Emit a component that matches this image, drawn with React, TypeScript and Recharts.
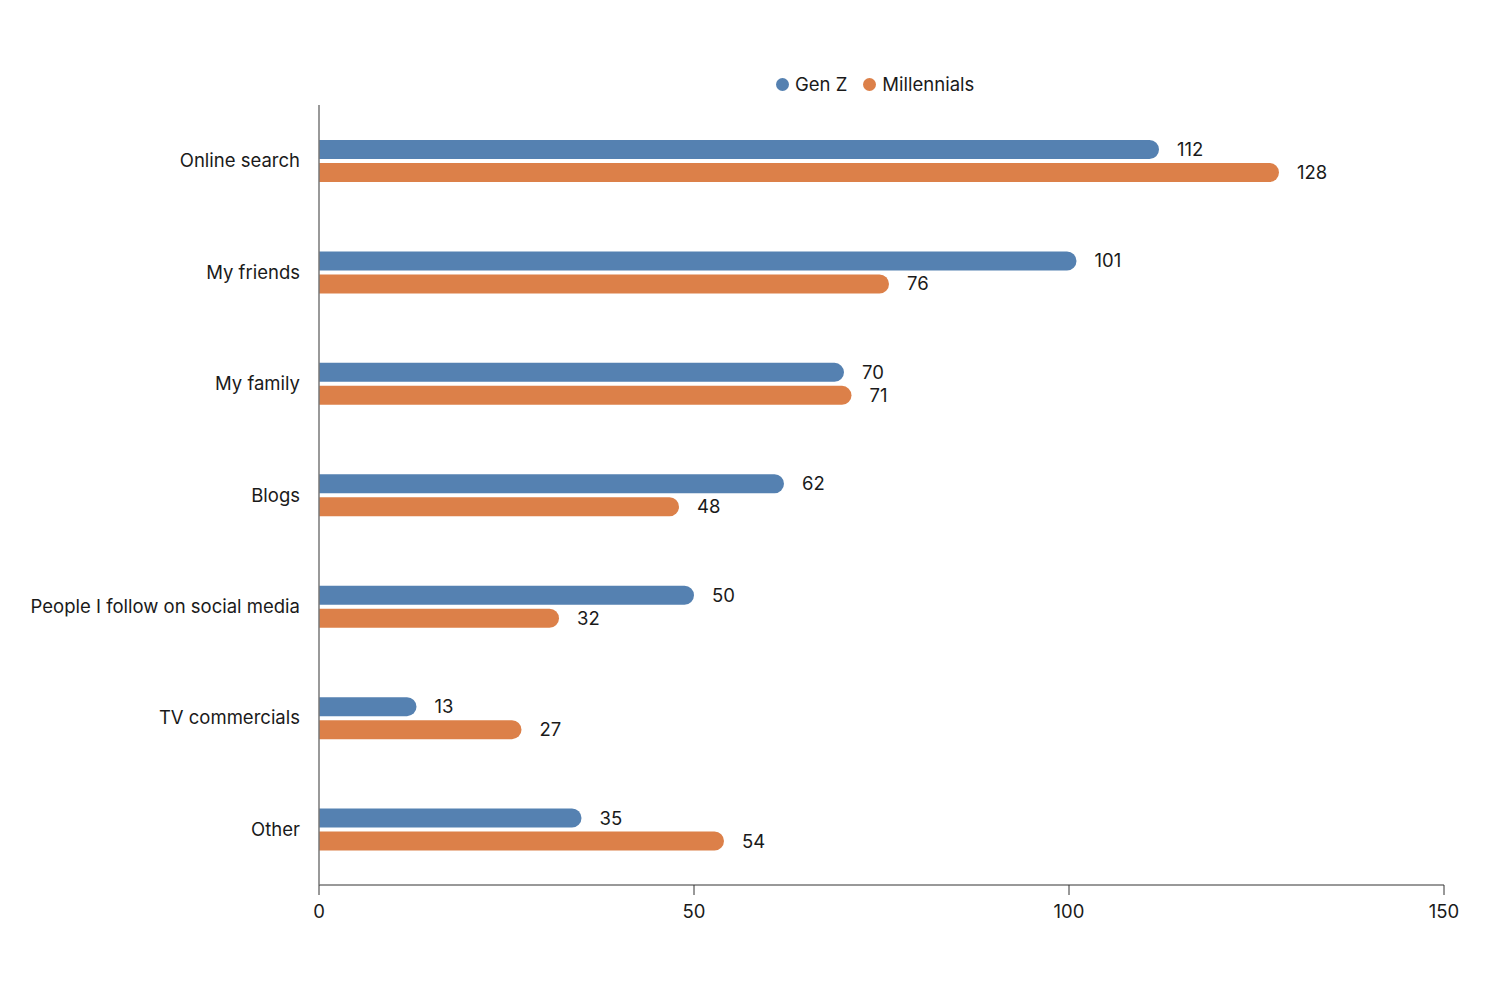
import React from "react";
import { Bar, BarChart, XAxis, YAxis, Legend, LabelList } from "recharts";

const categories = [
  "Online search",
  "My friends",
  "My family",
  "Blogs",
  "People I follow on social media",
  "TV commercials",
  "Other",
];
const genZ = [112, 101, 70, 62, 50, 13, 35];
const millennials = [128, 76, 71, 48, 32, 27, 54];
const xTicks = [0, 50, 100, 150];

const BLUE = "#5581B1";
const ORANGE = "#DC8049";
const FONT = "Inter, 'Noto Sans', sans-serif";
const FS = 18.5;

const data = categories.map((name, i) => ({
  name,
  genZ: genZ[i],
  millennials: millennials[i],
}));

function LegendContent() {
  const items = [
    { label: "Gen Z", color: BLUE },
    { label: "Millennials", color: ORANGE },
  ];
  return (
    <div
      style={{
        display: "flex",
        alignItems: "center",
        height: 24,
        fontFamily: FONT,
        fontSize: FS,
        color: "#1a1a1a",
        whiteSpace: "nowrap",
      }}
    >
      {items.map((it, i) => (
        <div
          key={it.label}
          style={{ display: "flex", alignItems: "center", marginLeft: i === 0 ? 0 : 16 }}
        >
          <span
            style={{
              width: 13,
              height: 13,
              borderRadius: "50%",
              background: it.color,
              display: "inline-block",
              marginRight: 6,
            }}
          />
          <span>{it.label}</span>
        </div>
      ))}
    </div>
  );
}

export default function App() {
  return (
    <div style={{ position: "absolute", left: 0, top: 0, background: "#fff" }}>
      <BarChart
        width={1500}
        height={985}
        data={data}
        layout="vertical"
        margin={{ top: 81, right: 56, bottom: 60, left: 0 }}
        barSize={19}
        barGap={4}
      >
        <Legend
          verticalAlign="top"
          align="center"
          content={<LegendContent />}
          wrapperStyle={{ top: 72, left: 776, width: "auto" }}
        />
        <XAxis
          type="number"
          domain={[0, 150]}
          ticks={xTicks}
          height={40}
          stroke="#333"
          tickSize={10}
          tickMargin={10}
          tick={{ fill: "#1a1a1a", fontSize: FS, fontFamily: FONT }}
        />
        <YAxis
          type="category"
          dataKey="name"
          width={319}
          stroke="#777"
          strokeWidth={1.5}
          tickLine={false}
          tickSize={0}
          tickMargin={19}
          tick={{ fill: "#1a1a1a", fontSize: FS, fontFamily: FONT }}
        />
        <Bar dataKey="genZ" name="Gen Z" fill={BLUE} radius={[0, 10, 10, 0]} isAnimationActive={false}>
          <LabelList
            dataKey="genZ"
            position="right"
            offset={18}
            style={{ fill: "#1a1a1a", fontSize: FS, fontFamily: FONT }}
          />
        </Bar>
        <Bar
          dataKey="millennials"
          name="Millennials"
          fill={ORANGE}
          radius={[0, 10, 10, 0]}
          isAnimationActive={false}
        >
          <LabelList
            dataKey="millennials"
            position="right"
            offset={18}
            style={{ fill: "#1a1a1a", fontSize: FS, fontFamily: FONT }}
          />
        </Bar>
      </BarChart>
    </div>
  );
}
